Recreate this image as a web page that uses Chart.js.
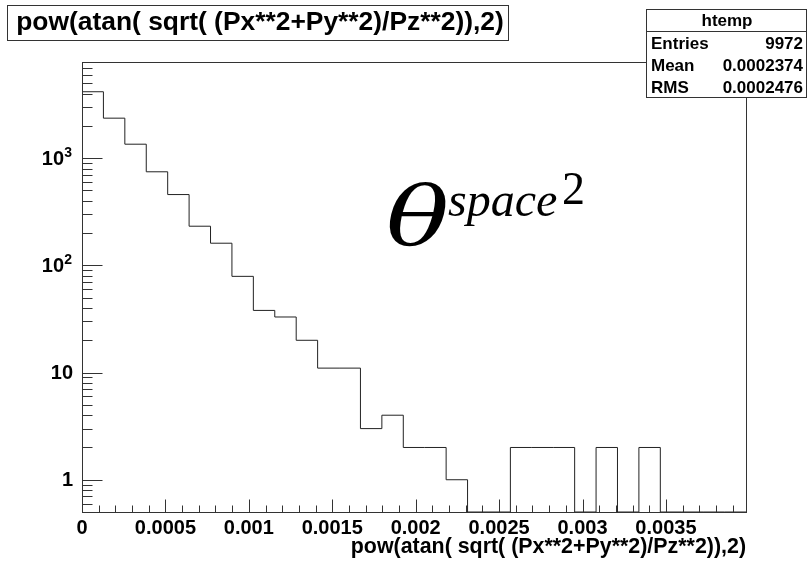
<!DOCTYPE html>
<html>
<head>
<meta charset="utf-8">
<script src="https://cdn.jsdelivr.net/npm/chart.js@4"></script>
<style>
    html, body { margin: 0; padding: 0; background: #fff; }
</style>
</head>
<body>
<canvas id="htemp_chart" width="808" height="561"></canvas>
<script>
// htemp: 31 bins between X_MIN and X_MAX
var X_MIN = 0;
var X_MAX = 0.00398;
var binCounts = [4170, 2364, 1351, 747, 458, 232, 161, 79, 38, 33, 20, 11, 11, 3, 4, 2, 2, 1, 0, 0, 2, 2, 2, 0, 2, 0, 2, 0, 0, 0, 0];
var Y_MIN = 0.5;
var Y_MAX = 7900;
// y labels: value, mantissa text, exponent text
var yLabelValues = [1, 10, 100, 1000];
var yLabelBase = ["1", "10", "10", "10"];
var yLabelExp = ["", "", "2", "3"];
var statsNames = ["Entries", "Mean", "RMS"];
var statsValues = ["9972", "0.0002374", "0.0002476"];
var histName = "htemp";
var varExpr = "pow(atan( sqrt( (Px**2+Py**2)/Pz**2)),2)";

var SANS = '"Liberation Sans", Arial, Helvetica, sans-serif';
var LINE = "#333";

// step outline of the histogram, points at bin edges
function histPoints() {
    var w = (X_MAX - X_MIN) / binCounts.length;
    var pts = [{ x: X_MIN, y: Y_MIN }];
    binCounts.forEach(function(c, i) {
        pts.push({ x: X_MIN + i * w, y: c > 0 ? c : Y_MIN });
    });
    var last = binCounts[binCounts.length - 1];
    pts.push({ x: X_MAX, y: last > 0 ? last : Y_MIN });
    pts.push({ x: X_MAX, y: Y_MIN });
    return pts;
}

function crisp(v) {
    return Math.round(v) + 0.5;
}

var rootPad = {
    id: "rootPad",
    afterDraw: function(chart) {
        var ctx = chart.ctx;
        var ca = chart.chartArea;
        var xs = chart.scales.x;
        var ys = chart.scales.y;
        var L = crisp(ca.left), R = crisp(ca.right), T = crisp(ca.top), B = crisp(ca.bottom);
        ctx.save();
        ctx.strokeStyle = LINE;
        ctx.lineWidth = 1;
        ctx.strokeRect(L, T, R - L, B - T);

        // x ticks, inside the frame
        ctx.beginPath();
        for (var k = 0; k <= 39; k++) {
            var v = k * 0.0001;
            if (v > X_MAX) break;
            var px = crisp(xs.getPixelForValue(v));
            var len = (k % 5 === 0) ? 13 : 7;
            ctx.moveTo(px, B);
            ctx.lineTo(px, B - len);
        }
        // y ticks, log decades and 2..9
        for (var e = -1; e <= 4; e++) {
            for (var m = 1; m <= 9; m++) {
                var yv = m * Math.pow(10, e);
                if (yv < Y_MIN || yv > Y_MAX) continue;
                var py = crisp(ys.getPixelForValue(yv));
                var ylen = (m === 1) ? 20 : 10;
                ctx.moveTo(L, py);
                ctx.lineTo(L + ylen, py);
            }
        }
        ctx.stroke();

        // y labels with raised exponents
        ctx.fillStyle = "#000";
        ctx.textBaseline = "middle";
        yLabelValues.forEach(function(val, i) {
            var py = ys.getPixelForValue(val) + 1;
            var right = 73;
            if (yLabelExp[i]) {
                ctx.font = "bold 14px " + SANS;
                ctx.textAlign = "right";
                ctx.fillText(yLabelExp[i], 72, py - 6);
                right = 64;
            }
            ctx.font = "bold 20px " + SANS;
            ctx.textAlign = "right";
            ctx.fillText(yLabelBase[i], right, py);
        });

        // latex label
        ctx.textBaseline = "alphabetic";
        ctx.textAlign = "left";
        ctx.save();
        ctx.translate(386, 245);
        ctx.scale(1.28, 1);
        ctx.font = 'italic 82px "DejaVu Serif", serif';
        ctx.fillText("\u03b8", 0, 0);
        ctx.restore();
        ctx.font = 'italic 48px "Liberation Serif", serif';
        ctx.fillText("space", 448, 216);
        ctx.font = '46px "Liberation Serif", serif';
        ctx.fillText("2", 562, 204);

        // title box
        ctx.fillStyle = "#fff";
        ctx.fillRect(7, 5, 501, 35);
        ctx.strokeRect(7.5, 5.5, 501, 35);
        ctx.fillStyle = "#000";
        ctx.font = "bold 26.4px " + SANS;
        ctx.textAlign = "center";
        ctx.textBaseline = "middle";
        ctx.fillText(varExpr, 260, 23);

        // stats box
        ctx.fillStyle = "#fff";
        ctx.fillRect(646, 9, 161, 89);
        ctx.strokeRect(646.5, 9.5, 160, 88);
        ctx.beginPath();
        ctx.moveTo(646, 31.5);
        ctx.lineTo(807, 31.5);
        ctx.stroke();
        ctx.fillStyle = "#000";
        ctx.font = "bold 17px " + SANS;
        ctx.fillText(histName, 727, 21);
        var rowsY = [44, 66, 88];
        statsNames.forEach(function(n, i) {
            ctx.textAlign = "left";
            ctx.fillText(n, 651, rowsY[i]);
            ctx.textAlign = "right";
            ctx.fillText(statsValues[i], 803, rowsY[i]);
        });
        ctx.restore();
    }
};

new Chart("htemp_chart", {
    type: "line",
    data: {
        datasets: [{
            label: histName,
            data: histPoints(),
            stepped: true,
            borderColor: "#222",
            borderWidth: 1,
            pointRadius: 0,
            fill: false,
        }]
    },
    options: {
        responsive: false,
        animation: false,
        devicePixelRatio: 1,
        layout: {
            padding: { top: 62, right: 62, left: 0, bottom: 0 }
        },
        plugins: {
            legend: { display: false },
            tooltip: { enabled: false }
        },
        scales: {
            x: {
                type: "linear",
                min: X_MIN,
                max: X_MAX,
                grid: { display: false, drawTicks: false },
                border: { display: false },
                ticks: {
                    stepSize: 0.0005,
                    includeBounds: false,
                    autoSkip: false,
                    maxRotation: 0,
                    padding: 4,
                    color: "#000",
                    font: { family: SANS, size: 20, weight: "bold" },
                    callback: function(v) {
                        return parseFloat(v.toFixed(6)).toString();
                    }
                },
                title: {
                    display: true,
                    text: varExpr,
                    align: "end",
                    color: "#000",
                    font: { family: SANS, size: 21.4, weight: "bold" },
                    padding: { top: 0, bottom: 1 }
                },
                afterFit: function(scale) {
                    scale.height = 49;
                }
            },
            y: {
                type: "logarithmic",
                min: Y_MIN,
                max: Y_MAX,
                grid: { display: false, drawTicks: false },
                border: { display: false },
                ticks: { display: false },
                afterFit: function(scale) {
                    scale.width = 82;
                }
            }
        }
    },
    plugins: [rootPad]
});
</script>
</body>
</html>
